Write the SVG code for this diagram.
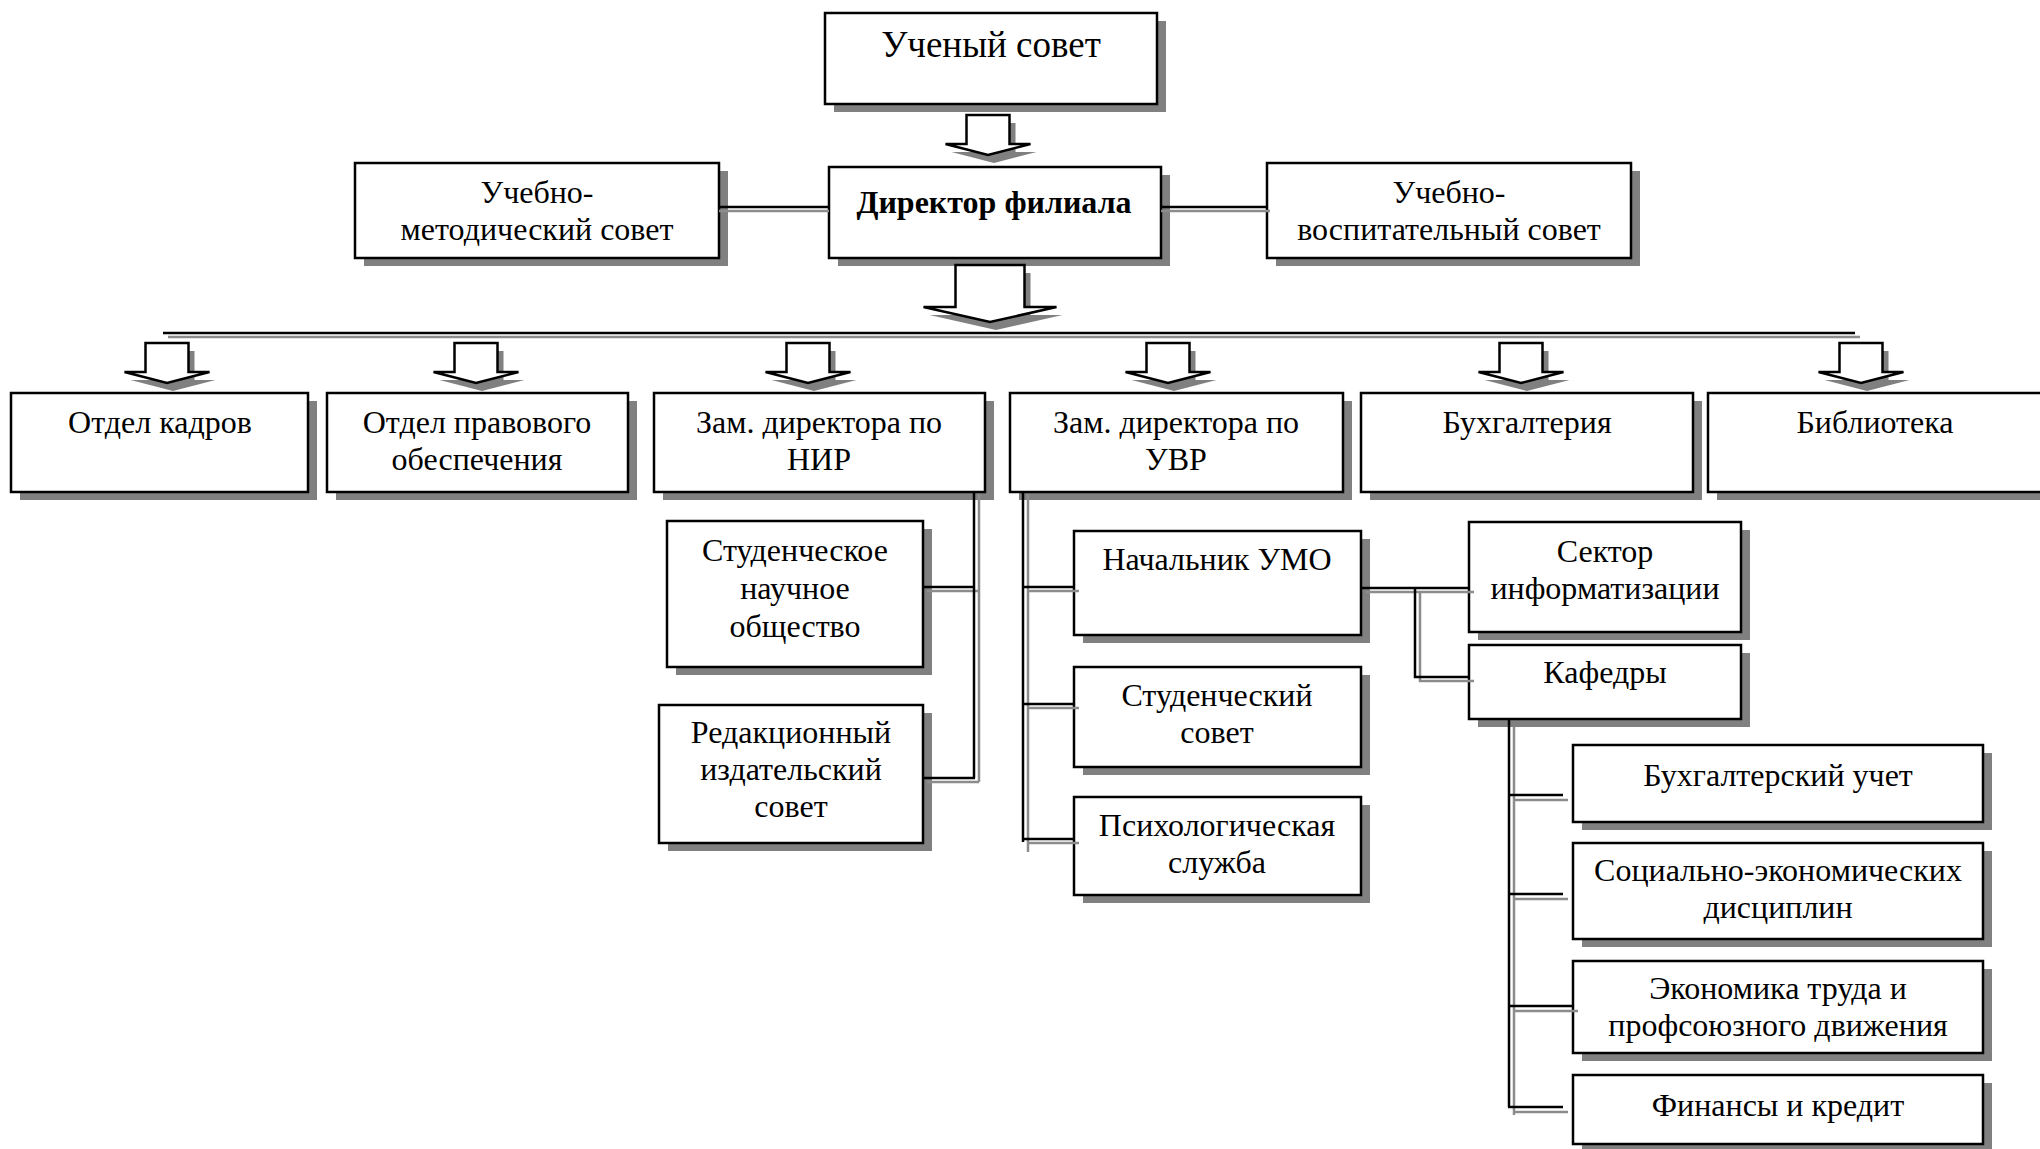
<svg xmlns="http://www.w3.org/2000/svg" xmlns:xlink="http://www.w3.org/1999/xlink" width="2040" height="1149" viewBox="0 0 2040 1149">
<style>
.box{fill:#fff;stroke:#000;stroke-width:2.5}
.sh{fill:#808080}
.t{font-family:"Liberation Serif","Times New Roman",serif;font-size:32px;fill:#000;text-anchor:middle}
.big{font-size:37px}
.b{font-weight:bold}
.k{stroke:#000;stroke-width:2.5;fill:none}
.g{stroke:#8c8c8c;stroke-width:2.5;fill:none}
.arr{fill:#fff;stroke:#000;stroke-width:2.5;stroke-linejoin:miter}
</style>
<defs>
<path id="sa" d="M-21.5,0 H21.5 V29 H42.5 L0,40 L-42.5,29 H-21.5 Z"/>
<path id="la" d="M-34.5,0 H34.5 V42 H66.5 L0,57 L-66.5,42 H-34.5 Z"/>
<g id="arrowS"><use xlink:href="#sa" class="sh" transform="translate(6,8)"/><use xlink:href="#sa" class="arr"/></g>
<g id="arrowL"><use xlink:href="#la" class="sh" transform="translate(6,8)"/><use xlink:href="#la" class="arr"/></g>
</defs>
<rect width="2040" height="1149" fill="#fff"/>

<g id="n-uchenyi"><rect class="sh" x="834" y="21" width="332" height="91"/><rect class="box" x="825" y="13" width="332" height="91"/><text class="t big" x="991" y="57">Ученый совет</text></g>
<g id="n-umsovet"><rect class="sh" x="364" y="171" width="364" height="95"/><rect class="box" x="355" y="163" width="364" height="95"/><text class="t" x="537" y="203">Учебно-</text><text class="t" x="537" y="240">методический совет</text></g>
<g id="n-director"><rect class="sh" x="838" y="175" width="332" height="91"/><rect class="box" x="829" y="167" width="332" height="91"/><text class="t b" x="994" y="213">Директор филиала</text></g>
<g id="n-uvsovet"><rect class="sh" x="1276" y="171" width="364" height="95"/><rect class="box" x="1267" y="163" width="364" height="95"/><text class="t" x="1449" y="203">Учебно-</text><text class="t" x="1449" y="240">воспитательный совет</text></g>

<g id="n-kadry"><rect class="sh" x="20" y="401" width="297" height="99"/><rect class="box" x="11" y="393" width="297" height="99"/><text class="t" x="160" y="433">Отдел кадров</text></g>
<g id="n-pravo"><rect class="sh" x="336" y="401" width="301" height="99"/><rect class="box" x="327" y="393" width="301" height="99"/><text class="t" x="477" y="433">Отдел правового</text><text class="t" x="477" y="470">обеспечения</text></g>
<g id="n-nir"><rect class="sh" x="663" y="401" width="331" height="99"/><rect class="box" x="654" y="393" width="331" height="99"/><text class="t" x="819" y="433">Зам. директора по</text><text class="t" x="819" y="470">НИР</text></g>
<g id="n-uvr"><rect class="sh" x="1019" y="401" width="333" height="99"/><rect class="box" x="1010" y="393" width="333" height="99"/><text class="t" x="1176" y="433">Зам. директора по</text><text class="t" x="1176" y="470">УВР</text></g>
<g id="n-buh"><rect class="sh" x="1370" y="401" width="332" height="99"/><rect class="box" x="1361" y="393" width="332" height="99"/><text class="t" x="1527" y="433">Бухгалтерия</text></g>
<g id="n-bibl"><rect class="sh" x="1717" y="401" width="334" height="99"/><rect class="box" x="1708" y="393" width="334" height="99"/><text class="t" x="1875" y="433">Библиотека</text></g>

<g id="n-sno"><rect class="sh" x="676" y="529" width="256" height="146"/><rect class="box" x="667" y="521" width="256" height="146"/><text class="t" x="795" y="561">Студенческое</text><text class="t" x="795" y="599">научное</text><text class="t" x="795" y="637">общество</text></g>
<g id="n-redak"><rect class="sh" x="668" y="713" width="264" height="138"/><rect class="box" x="659" y="705" width="264" height="138"/><text class="t" x="791" y="743">Редакционный</text><text class="t" x="791" y="780">издательский</text><text class="t" x="791" y="817">совет</text></g>

<g id="n-umo"><rect class="sh" x="1083" y="539" width="287" height="104"/><rect class="box" x="1074" y="531" width="287" height="104"/><text class="t" x="1217" y="570">Начальник УМО</text></g>
<g id="n-studsovet"><rect class="sh" x="1083" y="675" width="287" height="100"/><rect class="box" x="1074" y="667" width="287" height="100"/><text class="t" x="1217" y="706">Студенческий</text><text class="t" x="1217" y="743">совет</text></g>
<g id="n-psych"><rect class="sh" x="1083" y="805" width="287" height="98"/><rect class="box" x="1074" y="797" width="287" height="98"/><text class="t" x="1217" y="836">Психологическая</text><text class="t" x="1217" y="873">служба</text></g>

<g id="n-sektor"><rect class="sh" x="1478" y="530" width="272" height="110"/><rect class="box" x="1469" y="522" width="272" height="110"/><text class="t" x="1605" y="562">Сектор</text><text class="t" x="1605" y="599">информатизации</text></g>
<g id="n-kafedry"><rect class="sh" x="1478" y="653" width="272" height="74"/><rect class="box" x="1469" y="645" width="272" height="74"/><text class="t" x="1605" y="683">Кафедры</text></g>

<g id="n-buhuchet"><rect class="sh" x="1582" y="753" width="410" height="77"/><rect class="box" x="1573" y="745" width="410" height="77"/><text class="t" x="1778" y="786">Бухгалтерский учет</text></g>
<g id="n-socek"><rect class="sh" x="1582" y="851" width="410" height="96"/><rect class="box" x="1573" y="843" width="410" height="96"/><text class="t" x="1778" y="881">Социально-экономических</text><text class="t" x="1778" y="918">дисциплин</text></g>
<g id="n-ektrud"><rect class="sh" x="1582" y="969" width="410" height="92"/><rect class="box" x="1573" y="961" width="410" height="92"/><text class="t" x="1778" y="999">Экономика труда и</text><text class="t" x="1778" y="1036">профсоюзного движения</text></g>
<g id="n-fin"><rect class="sh" x="1582" y="1083" width="410" height="69"/><rect class="box" x="1573" y="1075" width="410" height="69"/><text class="t" x="1778" y="1116">Финансы и кредит</text></g>

<g id="connectors">
<use xlink:href="#arrowS" x="988" y="115"/>
<use xlink:href="#arrowL" x="990" y="265"/>
<path class="g" d="M719,211 H829 M1161,211 H1270"/>
<path class="k" d="M719,207 H829 M1161,207 H1267"/>
<path class="g" d="M168,337 H1860"/>
<path class="k" d="M163,333 H1855"/>
<use xlink:href="#arrowS" x="167" y="343"/>
<use xlink:href="#arrowS" x="476" y="343"/>
<use xlink:href="#arrowS" x="808" y="343"/>
<use xlink:href="#arrowS" x="1168" y="343"/>
<use xlink:href="#arrowS" x="1521" y="343"/>
<use xlink:href="#arrowS" x="1861" y="343"/>
<path class="g" d="M979,494 V782 M927,591 H979 M927,782 H979"/>
<path class="k" d="M974,492 V778 M923,587 H975 M923,778 H975"/>
<path class="g" d="M1028,494 V852 M1028,591 H1079 M1028,708 H1079 M1028,843 H1079"/>
<path class="k" d="M1023,492 V842 M1022,587 H1074 M1022,704 H1074 M1022,839 H1074"/>
<path class="g" d="M1366,592 H1474 M1420,592 V681 H1474"/>
<path class="k" d="M1361,588 H1469 M1415,588 V677 H1469"/>
<path class="g" d="M1514,727 V1115 M1514,800 H1568 M1514,899 H1568 M1514,1011 H1578 M1514,1112 H1568"/>
<path class="k" d="M1509,719 V1107 M1508,795 H1563 M1508,894 H1563 M1508,1006 H1573 M1508,1107 H1563"/>
</g>
</svg>
